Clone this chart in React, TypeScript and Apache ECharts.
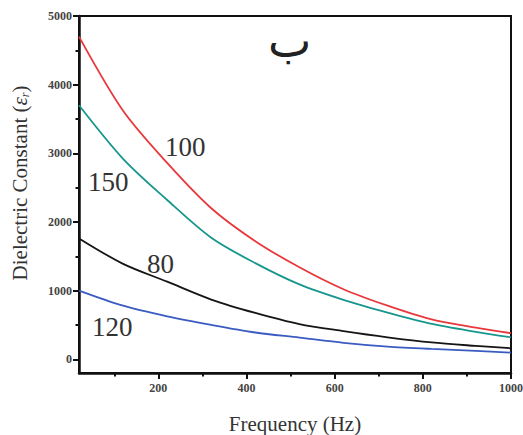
import React, { useEffect, useRef } from "react";
import * as echarts from "echarts";

const frequencies = [20, 120, 220, 320, 420, 520, 620, 720, 820, 920, 1000];
const series100 = [4700, 3620, 2860, 2200, 1720, 1340, 1020, 780, 580, 460, 380];
const series150 = [3700, 2920, 2320, 1770, 1400, 1090, 865, 680, 515, 400, 320];
const series80 = [1760, 1390, 1130, 870, 675, 512, 410, 320, 245, 195, 160];
const series120 = [1000, 780, 625, 500, 390, 316, 240, 185, 150, 122, 97];
const xMajorTicks = [200, 400, 600, 800, 1000];
const xMinorTicks = [100, 300, 500, 700, 900];
const yMajorTicks = [0, 1000, 2000, 3000, 4000, 5000];
const yMinorTicks = [500, 1500, 2500, 3500, 4500];
const seriesNames = ["100", "150", "80", "120"];
const colors = ["#e8383c", "#17968d", "#151515", "#3a5cc2"];

const pair = (vals: number[]) => frequencies.map((f, i) => [f, vals[i]]);

export default function App() {
  const ref = useRef<HTMLDivElement>(null);
  useEffect(() => {
    if (!ref.current) return;
    const chart = echarts.init(ref.current, null, { renderer: "svg" });
    const serif = "Liberation Serif";
    const tickLabel = {
      fontFamily: serif,
      fontSize: 12,
      fontWeight: "bold",
      color: "#444",
      formatter: (v: number) => String(v),
    };
    const mkX = (ticks: number[], len: number, labels: boolean, line: boolean) => ({
      type: "value",
      position: "bottom",
      min: 20,
      max: 1000,
      splitLine: { show: false },
      axisLine: { show: line, onZero: false, lineStyle: { color: "#111", width: 2.5 } },
      axisTick: { show: true, customValues: ticks, length: len, lineStyle: { color: "#111", width: 2 } },
      axisLabel: { show: labels, customValues: ticks, margin: 9, ...tickLabel },
    });
    const mkY = (ticks: number[], len: number, labels: boolean, line: boolean) => ({
      type: "value",
      position: "left",
      min: -200,
      max: 5000,
      splitLine: { show: false },
      axisLine: { show: line, onZero: false, lineStyle: { color: "#111", width: 2.5 } },
      axisTick: { show: true, customValues: ticks, length: len, lineStyle: { color: "#111", width: 2 } },
      axisLabel: { show: labels, customValues: ticks, margin: 7, ...tickLabel },
    });
    const xMain: any = mkX(xMajorTicks, 6, true, true);
    xMain.name = "Frequency (Hz)";
    xMain.nameLocation = "middle";
    xMain.nameGap = 40;
    xMain.nameTextStyle = { fontFamily: serif, fontSize: 21, color: "#333" };

    const labelPos = [
      [165, 133],
      [88, 168],
      [147, 250],
      [92, 313],
    ];

    chart.setOption({
      animation: false,
      backgroundColor: "#fff",
      grid: {
        left: 79,
        top: 16,
        right: 12,
        bottom: 62,
        outerBoundsMode: "none",
        containLabel: false,
        show: true,
        borderColor: "#111",
        borderWidth: 2,
        backgroundColor: "transparent",
      },
      xAxis: [xMain, mkX(xMinorTicks, 3.5, false, false)],
      yAxis: [mkY(yMajorTicks, 6, true, true), mkY(yMinorTicks, 3.5, false, false)],
      series: [series100, series150, series80, series120].map((vals, i) => ({
        type: "line",
        name: seriesNames[i],
        data: pair(vals),
        smooth: 0.3,
        showSymbol: false,
        lineStyle: { color: colors[i], width: 1.8 },
        itemStyle: { color: colors[i] },
        clip: true,
      })),
      graphic: [
        ...seriesNames.map((n, i) => ({
          type: "text",
          x: labelPos[i][0],
          y: labelPos[i][1],
          style: { text: n, fontFamily: serif, fontSize: 27, fill: "#333" },
        })),
        {
          type: "text",
          x: 268,
          y: 18,
          style: { text: "ب", fontFamily: "DejaVu Sans", fontSize: 46, fill: "#222" },
        },
        {
          type: "text",
          x: 20,
          y: 183,
          rotation: Math.PI / 2,
          style: {
            text: "Dielectric Constant ({i|ε}{sub|r})",
            fontFamily: serif,
            fontSize: 21,
            fill: "#333",
            align: "center",
            verticalAlign: "middle",
            rich: {
              i: { fontFamily: serif, fontSize: 21, fontStyle: "italic", fill: "#333" },
              sub: { fontFamily: serif, fontSize: 12, fontStyle: "italic", fill: "#333", padding: [10, 0, 0, 0] },
            },
          },
        },
      ],
    });
    return () => chart.dispose();
  }, []);
  return (
    <div
      ref={ref}
      style={{ position: "absolute", left: 0, top: 0, width: 523, height: 435 }}
    />
  );
}
